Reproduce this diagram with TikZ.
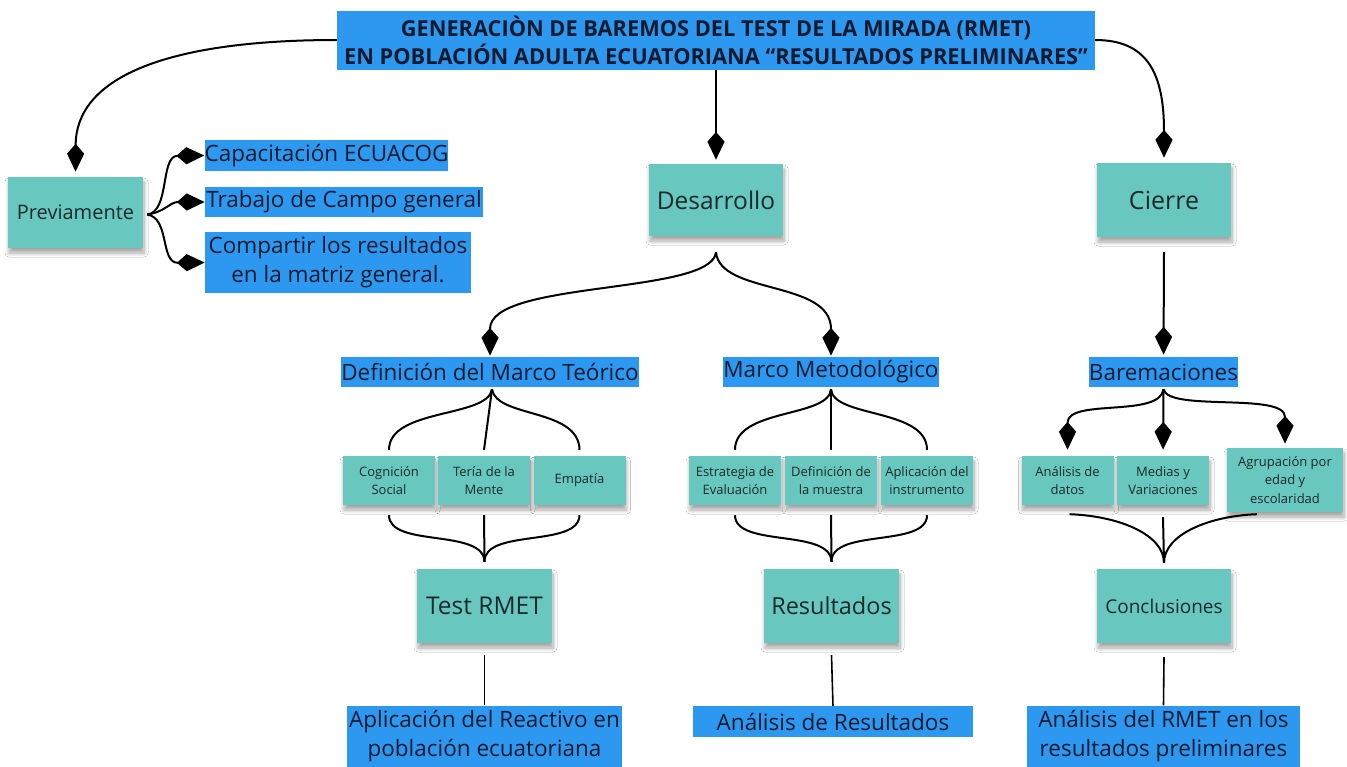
\documentclass[tikz,border=0pt]{standalone}
\usepackage{fontspec}
\setmainfont{Open Sans}
\newfontfamily\titlefont[FakeStretch=0.99]{Open Sans}
\usetikzlibrary{arrows.meta,shadows.blur,calc}
\definecolor{tealc}{RGB}{104,199,191}
\definecolor{bluec}{RGB}{45,152,240}
\definecolor{navy}{RGB}{16,26,46}
\definecolor{ink}{RGB}{28,42,42}
\tikzset{
  sticky/.style={fill=tealc, inner sep=0pt, align=center, text=ink,
    blur shadow={shadow xshift=1pt, shadow yshift=-5pt, shadow blur steps=8, shadow blur radius=4pt, shadow opacity=35}},
  bluebox/.style={fill=bluec, inner sep=0pt, align=center, text=navy},
  conn/.style={draw=black, line width=2pt},
  arr/.style={conn, -{Stealth[length=18pt,width=16pt,inset=-10pt]}},
  plain/.style={draw=black, line width=1.6pt},
  bf/.style={font=\fontsize{22.5}{29}\selectfont},
}
\begin{document}
\begin{tikzpicture}[x=1pt,y=-1pt]
\useasboundingbox (0,0) rectangle (1347,766);
\fill[white] (0,0) rectangle (1347,766);

% title
\node[bluebox, minimum width=758pt, minimum height=59pt, font=\titlefont\bfseries\fontsize{22}{28}\selectfont] (title) at (716,40)
  {GENERACIÒN DE BAREMOS DEL TEST DE LA MIRADA (RMET)\\EN POBLACIÓN ADULTA ECUATORIANA “RESULTADOS PRELIMINARES”};

% level 1
\node[sticky, minimum width=135pt, minimum height=71pt, font=\fontsize{20}{24}\selectfont] (prev) at (75.5,212.5) {Previamente};
\node[sticky, minimum width=134pt, minimum height=72pt, font=\fontsize{24.5}{28}\selectfont] (des) at (716,200) {Desarrollo};
\node[sticky, minimum width=134pt, minimum height=74pt, font=\fontsize{25}{28}\selectfont] (cie) at (1164,200) {Cierre};

% previamente items
\node[bluebox, bf, minimum width=243pt, minimum height=31pt] (cap) at (326.5,155.5) {Capacitación ECUACOG};
\node[bluebox, bf, minimum width=278pt, minimum height=30pt] (tra) at (344,202) {Trabajo de Campo general};
\node[bluebox, bf, minimum width=266pt, minimum height=61pt] (com) at (338,262.5) {Compartir los resultados\\en la matriz general.};

% level 2
\node[bluebox, bf, minimum width=296pt, minimum height=30pt] (def) at (490,372) {Definición del Marco Teórico};
\node[bluebox, bf, minimum width=212pt, minimum height=30pt] (met) at (831,372) {Marco Metodológico};
\node[bluebox, bf, minimum width=149pt, minimum height=30pt] (bar) at (1163.5,372) {Baremaciones};

% small notes
\tikzset{small/.style={sticky, minimum width=92pt, minimum height=49pt, font=\fontsize{13}{18.5}\selectfont}}
\node[small] (cog) at (389,480.5) {Cognición\\Social};
\node[small] (ter) at (484,480.5) {Tería de la\\Mente};
\node[small] (emp) at (579.5,480.5) {Empatía};
\node[small] (est) at (735,480.5) {Estrategia de\\Evaluación};
\node[small] (mue) at (831,480.5) {Definición de\\la muestra};
\node[small] (ins) at (927,480.5) {Aplicación del\\instrumento};
\node[small] (ana) at (1067.5,480.5) {Análisis de\\datos};
\node[small] (med) at (1163,480.5) {Medias y\\Variaciones};
\node[small, minimum width=116pt, minimum height=64pt] (agr) at (1285,480) {Agrupación por\\edad y\\escolaridad};

% level 3
\node[sticky, minimum width=135pt, minimum height=74pt, font=\fontsize{24.5}{28}\selectfont] (test) at (484.5,606) {Test RMET};
\node[sticky, minimum width=135pt, minimum height=74pt, font=\fontsize{23.5}{28}\selectfont] (res) at (831.5,606) {Resultados};
\node[sticky, minimum width=134pt, minimum height=74pt, font=\fontsize{19}{24}\selectfont] (con) at (1164,606) {Conclusiones};

% bottom
\node[bluebox, bf, minimum width=275pt, minimum height=62pt] (apl) at (484.5,736.5) {Aplicación del Reactivo en\\población ecuatoriana};
\node[bluebox, bf, minimum width=280pt, minimum height=31pt] (anr) at (833,721.5) {Análisis de Resultados};
\node[bluebox, bf, minimum width=273pt, minimum height=62pt] (rmet) at (1163.5,736.5) {Análisis del RMET en los\\resultados preliminares};

% title connectors
\draw[arr, shorten >=5pt] (title.west) .. controls (160,40) and (76,80) .. (prev.north);
\draw[arr, shorten >=4pt] (title.south) -- (des.north);
\draw[arr, shorten >=5pt] (title.east) .. controls (1145,40) and (1164,70) .. (cie.north);

% previamente
\coordinate (pB) at ([xshift=4pt,yshift=-2pt]prev.east);
\draw[arr] (pB) .. controls (170,212) and (160,156) .. (cap.west);
\draw[arr] (pB) .. controls (165,212) and (170,202) .. (tra.west);
\draw[arr] (pB) .. controls (170,218) and (160,263) .. (com.west);

% desarrollo
\coordinate (dB) at ([yshift=-16pt]des.south);
\draw[arr, shorten >=1pt] (dB) .. controls (712,295) and (490,280) .. (def.north);
\draw[arr, shorten >=1pt] (dB) .. controls (720,295) and (831,280) .. (met.north);

% cierre
\draw[arr, shorten >=2pt] ([yshift=-15pt]cie.south) -- (bar.north);

% braces Definicion
\coordinate (dT) at ([xshift=2pt,yshift=-2pt]def.south);
\draw[conn] (dT) .. controls (488,418) and (389,408) .. ([yshift=6pt]cog.north);
\draw[conn] (dT) -- ([yshift=6pt]ter.north);
\draw[conn] (dT) .. controls (496,418) and (579,408) .. ([yshift=6pt]emp.north);
\coordinate (tT) at ([yshift=7pt]test.north);
\draw[conn] ([yshift=-10pt]cog.south) .. controls (389,548) and (484,528) .. (tT);
\draw[conn] ([yshift=-10pt]ter.south) -- (tT);
\draw[conn] ([yshift=-10pt]emp.south) .. controls (579,548) and (484,528) .. (tT);

% braces Metodologico
\coordinate (mT) at ([yshift=-2pt]met.south);
\draw[conn] (mT) .. controls (829,418) and (735,408) .. ([yshift=6pt]est.north);
\draw[conn] (mT) -- ([yshift=6pt]mue.north);
\draw[conn] (mT) .. controls (833,418) and (927,408) .. ([yshift=6pt]ins.north);
\coordinate (rT) at ([yshift=7pt]res.north);
\draw[conn] ([yshift=-10pt]est.south) .. controls (735,548) and (831,528) .. (rT);
\draw[conn] ([yshift=-10pt]mue.south) -- (rT);
\draw[conn] ([yshift=-10pt]ins.south) .. controls (927,548) and (831,528) .. (rT);

% Baremaciones
\coordinate (bT) at ([yshift=-2pt]bar.south);
\draw[arr, shorten >=6pt] (bT) .. controls (1160,418) and (1067.5,398) .. (ana.north);
\draw[arr, shorten >=6pt] (bT) -- (med.north);
\draw[arr, shorten >=4pt] (bT) .. controls (1168,412) and (1285,392) .. (agr.north);
\coordinate (cT) at ([yshift=6pt]con.north);
\draw[conn] ([xshift=2pt,yshift=-9pt]ana.south) .. controls (1120,516) and (1164,535) .. (cT);
\draw[conn] ([yshift=-12pt]med.south) -- (cT);
\draw[conn] ([xshift=30pt,yshift=-2pt]agr.south west) .. controls (1208,516) and (1164,535) .. (cT);

% bottom lines
\draw[plain] ([yshift=-12pt]test.south) -- (apl.north);
\draw[plain] ([yshift=-12pt]res.south) -- (anr.north);
\draw[plain] ([yshift=-14pt]con.south) -- (rmet.north);
\end{tikzpicture}
\end{document}
